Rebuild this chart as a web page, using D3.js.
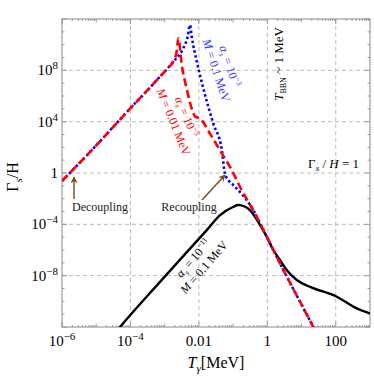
<!DOCTYPE html>
<head>
<meta charset="utf-8">
<script src="https://cdn.jsdelivr.net/npm/d3@7/dist/d3.min.js"></script>
<style>
body { margin: 0; background: #fff; }
text { font-family: "Liberation Serif", "DejaVu Serif", serif; }
</style>
</head>
<body>
<script>
// values, as log10 of T (MeV) and log10 of Gamma_s/H
var redLogT  = [-6, -5.5, -5, -4.5, -4, -3.5, -3.14, -2.9, -2.75, -2.65, -2.6, -2.5, -2.36, -2.16, -2.11, -1.97, -1.68, -1.33, -1.04, -0.8, -0.31, 0.175, 0.37, 1.34, 1.45];
var redLogG  = [-0.62, 0.75, 2.15, 3.6, 5.05, 6.45, 7.5, 8.2, 8.67, 9.45, 10.5, 8.41, 6.6, 4.65, 4.39, 4.26, 3.09, 1.53, 0.23, -1.07, -3.41, -6.0, -7.04, -11.98, -12.55];
var blueLogT = [-6, -5.5, -5, -4.5, -4, -3.5, -3.14, -2.9, -2.75, -2.455, -2.33, -2.26, -2.21, -2.06, -1.92, -1.82, -1.58, -1.33, -1.24, -1.14, -0.994, -0.41, -0.25, 0.175, 0.37, 1.34, 1.45];
var blueLogG = [-0.62, 0.75, 2.15, 3.6, 5.05, 6.45, 7.5, 8.2, 8.67, 9.72, 10.6, 11.53, 10.62, 8.67, 7.11, 6.08, 3.87, 1.79, -0.03, -0.55, -0.94, -2.89, -3.72, -6.0, -7.04, -11.98, -12.55];
var blackLogT = [-4.4, -4.305, -3.136, -1.77, -1.38, -0.99, -0.85, -0.8, -0.51, -0.21, -0.018, 0.175, 0.37, 0.566, 0.86, 1.25, 2.03, 2.61, 3.0];
var blackLogG = [-12.3, -12, -8.48, -4.45, -3.28, -2.63, -2.49, -2.5, -2.89, -4.06, -4.97, -6.0, -6.78, -7.56, -8.34, -8.87, -9.64, -10.55, -10.94];

var xTicks = [1e-6, 1e-4, 1e-2, 1, 100];
var xTickLabels = [["10", "\u22126"], ["10", "\u22124"], ["0.01", ""], ["1", ""], ["100", ""]];
var yTicks = [1e8, 1e4, 1, 1e-4, 1e-8];
var yTickLabels = [["10", "8"], ["10", "4"], ["1", ""], ["10", "\u22124"], ["10", "\u22128"]];

var margin = {top: 19, right: 4, bottom: 50, left: 62},
    width = 374 - margin.left - margin.right,
    height = 377 - margin.top - margin.bottom;

var svg = d3.select("body").append("svg").attr("width", 374).attr("height", 377)
  .append("g").attr("transform", "translate(" + margin.left + "," + margin.top + ")");

var x = d3.scaleLog().domain([1e-6, 1e3]).range([0, width]);
var y = d3.scaleLog().domain([1e-12, 1e12]).range([height, 0]);

svg.append("defs").append("clipPath").attr("id", "clip")
  .append("rect").attr("width", width).attr("height", height);
var mk = svg.select("defs").append("marker").attr("id", "arrow")
  .attr("viewBox", "0 0 10 10").attr("refX", 9).attr("refY", 5)
  .attr("markerWidth", 7).attr("markerHeight", 7).attr("orient", "auto-start-reverse")
  .attr("markerUnits", "userSpaceOnUse");
mk.append("path").attr("d", "M0,0 L10,5 L0,10 L3,5 z").attr("fill", "#7b4a12");

// grid
svg.append("g").selectAll("line").data(xTicks.filter(d => d > 1e-6)).enter().append("line")
  .attr("x1", d => x(d)).attr("x2", d => x(d)).attr("y1", 0).attr("y2", height)
  .attr("stroke", "#bbb").attr("stroke-dasharray", "4,3").attr("stroke-width", 1);
svg.append("g").selectAll("line").data(yTicks).enter().append("line")
  .attr("y1", d => y(d)).attr("y2", d => y(d)).attr("x1", 0).attr("x2", width)
  .attr("stroke", "#bbb").attr("stroke-dasharray", "4,3").attr("stroke-width", 1);

// frame ticks
var ticks = svg.append("g").attr("stroke", "#888").attr("stroke-width", 0.8);
for (var e = -6; e < 3; e++) {
  for (var k = 1; k < 10; k++) {
    var v = k * Math.pow(10, e), len = k == 1 ? (e % 2 == 0 ? 5 : 3.5) : 2;
    ticks.append("line").attr("x1", x(v)).attr("x2", x(v)).attr("y1", height).attr("y2", height - len);
    ticks.append("line").attr("x1", x(v)).attr("x2", x(v)).attr("y1", 0).attr("y2", len);
  }
}
for (var e = -12; e <= 12; e++) {
  var len = e % 4 == 0 ? 5 : 2.5;
  ticks.append("line").attr("y1", y(Math.pow(10, e))).attr("y2", y(Math.pow(10, e))).attr("x1", 0).attr("x2", len);
  ticks.append("line").attr("y1", y(Math.pow(10, e))).attr("y2", y(Math.pow(10, e))).attr("x1", width).attr("x2", width - len);
}
svg.append("rect").attr("width", width).attr("height", height)
  .attr("fill", "none").attr("stroke", "#888").attr("stroke-width", 1);

// tick labels
function powLabel(g, base, sup) {
  g.append("tspan").text(base);
  if (sup) g.append("tspan").attr("dy", -6).attr("font-size", "11px").text(sup);
}
xTicks.forEach(function(d, i) {
  var t = svg.append("text").attr("x", x(d)).attr("y", height + 19)
    .attr("text-anchor", "middle").attr("font-size", "15px");
  powLabel(t, xTickLabels[i][0], xTickLabels[i][1]);
});
yTicks.forEach(function(d, i) {
  var t = svg.append("text").attr("x", -4).attr("y", y(d) + 5)
    .attr("text-anchor", "end").attr("font-size", "15px");
  powLabel(t, yTickLabels[i][0], yTickLabels[i][1]);
});

// axis titles
var xl = svg.append("text").attr("x", 154).attr("y", height + 41).attr("text-anchor", "middle").attr("font-size", "16px");
xl.append("tspan").attr("font-style", "italic").text("T");
xl.append("tspan").attr("font-style", "italic").attr("font-size", "11px").attr("dy", 4).text("\u03b3");
xl.append("tspan").attr("dy", -4).text("[MeV]");
var yl = svg.append("text").attr("transform", "translate(-44," + (y(1) + 4) + ") rotate(-90)")
  .attr("text-anchor", "middle").attr("font-size", "16px");
yl.append("tspan").text("\u0393");
yl.append("tspan").attr("font-style", "italic").attr("font-size", "11px").attr("dy", 4).text("s");
yl.append("tspan").attr("dy", -4).text("/H");

// curves
var line = d3.line().x(d => x(Math.pow(10, d[0]))).y(d => y(Math.pow(10, d[1]))).curve(d3.curveMonotoneX);
var plot = svg.append("g").attr("clip-path", "url(#clip)");
plot.append("path").datum(d3.zip(blackLogT, blackLogG)).attr("d", line)
  .attr("fill", "none").attr("stroke", "black").attr("stroke-width", 2.4);
plot.append("path").datum(d3.zip(blueLogT, blueLogG)).attr("d", line)
  .attr("fill", "none").attr("stroke", "#0000ff").attr("stroke-width", 2.6).attr("stroke-dasharray", "2.5,2.5");
plot.append("path").datum(d3.zip(redLogT, redLogG)).attr("d", line)
  .attr("fill", "none").attr("stroke", "#ff0000").attr("stroke-width", 2.6).attr("stroke-dasharray", "8,4");

// rotated curve labels
function paramLabel(cx, cy, angle, color, exp, mass) {
  var g = svg.append("g").attr("transform", "translate(" + (cx - margin.left) + "," + (cy - margin.top) + ") rotate(" + angle + ")")
    .attr("fill", color).attr("font-size", "12px").attr("text-anchor", "middle");
  var t1 = g.append("text").attr("y", -2);
  t1.append("tspan").attr("font-style", "italic").text("\u03b1");
  t1.append("tspan").attr("font-style", "italic").attr("font-size", "8px").attr("dy", 3).text("s");
  t1.append("tspan").attr("dy", -3).text(" = 10");
  t1.append("tspan").attr("font-size", "8px").attr("dy", -5).text(exp);
  var t2 = g.append("text").attr("y", 12);
  t2.append("tspan").attr("font-style", "italic").text("M");
  t2.append("tspan").text(" = " + mass + " MeV");
}
paramLabel(181, 119, 68, "#ff0000", "\u22125", "0.01");
paramLabel(224, 68, 72, "#3333ff", "\u22123", "0.1");
paramLabel(198, 262, -49, "#000", "\u221211", "0.1");

// annotations
var tb = svg.append("text").attr("transform", "translate(" + (283 - margin.left) + "," + (64 - margin.top) + ") rotate(-90)")
  .attr("text-anchor", "middle").attr("font-size", "13px");
tb.append("tspan").attr("font-style", "italic").text("T");
tb.append("tspan").attr("font-size", "8px").attr("dy", 3).text("BBN");
tb.append("tspan").attr("dy", -3).text(" ~ 1 MeV");

var gh = svg.append("text").attr("x", 359 - margin.left).attr("y", 168 - margin.top)
  .attr("text-anchor", "end").attr("font-size", "13px");
gh.append("tspan").text("\u0393");
gh.append("tspan").attr("font-style", "italic").attr("font-size", "9px").attr("dy", 3).text("s");
gh.append("tspan").attr("dy", -3).text(" / ");
gh.append("tspan").attr("font-style", "italic").text("H");
gh.append("tspan").text(" = 1");

svg.append("text").attr("x", 100 - margin.left).attr("y", 211 - margin.top)
  .attr("text-anchor", "middle").attr("font-size", "12px").attr("fill", "#222").text("Decoupling");
svg.append("text").attr("x", 189 - margin.left).attr("y", 211 - margin.top)
  .attr("text-anchor", "middle").attr("font-size", "12px").attr("fill", "#222").text("Recoupling");
svg.append("line").attr("x1", 74 - margin.left).attr("y1", 199 - margin.top)
  .attr("x2", 74 - margin.left).attr("y2", 177 - margin.top)
  .attr("stroke", "#7b4a12").attr("stroke-width", 1.4).attr("marker-end", "url(#arrow)");
svg.append("line").attr("x1", 202 - margin.left).attr("y1", 200 - margin.top)
  .attr("x2", 225 - margin.left).attr("y2", 175 - margin.top)
  .attr("stroke", "#7b4a12").attr("stroke-width", 1.4).attr("marker-end", "url(#arrow)");
</script>
</body>
